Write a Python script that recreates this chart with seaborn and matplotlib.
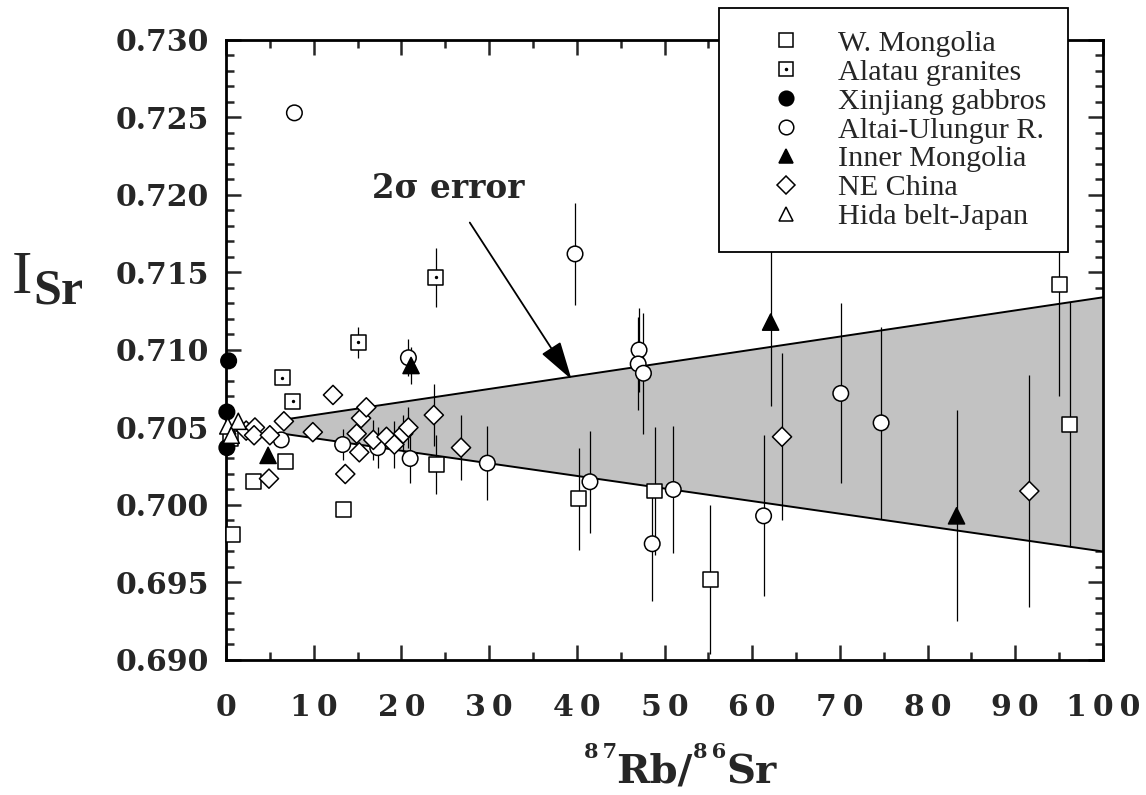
import numpy as np
import pandas as pd
import matplotlib
matplotlib.use("Agg")
import matplotlib.pyplot as plt
from matplotlib.lines import Line2D
from matplotlib.ticker import MultipleLocator, FixedLocator
import seaborn as sns

# ------- Data (x = 87Rb/86Sr, y = initial Sr, err = 2 sigma) -------
wm_x = [0.5, 0.8, 3.1, 6.8, 13.4, 24.0, 40.2, 48.9, 55.2, 95.0, 96.2]
wm_y = [0.7043, 0.6981, 0.7015, 0.7028, 0.6997, 0.7026, 0.7004, 0.7009, 0.6952, 0.7142, 0.7052]
wm_err = [0, 0, 0, 0, 0, 0.0019, 0.0033, 0.0041, 0.0048, 0.0072, 0.0079]

al_x = [6.4, 7.6, 15.1, 23.9]
al_y = [0.7082, 0.7067, 0.7105, 0.7147]
al_err = [0, 0, 0.0010, 0.0019]

xj_x = [0.3, 0.1, 0.1]
xj_y = [0.7093, 0.7060, 0.7037]
xj_err = [0, 0, 0]

au_x = [7.8, 6.3, 13.3, 17.3, 21.0, 20.8, 29.8, 39.8, 41.5, 47.1, 47.0, 47.6, 48.6, 51.0, 61.3, 70.1, 74.7]
au_y = [0.7253, 0.7042, 0.7039, 0.7037, 0.7030, 0.7095, 0.7027, 0.7162, 0.7015, 0.7100, 0.7091,
        0.7085, 0.6975, 0.7010, 0.6993, 0.7072, 0.7053]
au_err = [0, 0, 0.0010, 0.0013, 0.0016, 0.0012, 0.0024, 0.0033, 0.0033, 0.0027, 0.0030,
          0.0039, 0.0037, 0.0041, 0.0052, 0.0058, 0.0062]

im_x = [4.8, 21.1, 62.1, 83.3]
im_y = [0.7032, 0.7090, 0.7118, 0.6993]
im_err = [0, 0.0012, 0.0054, 0.0068]

ne_x = [2.3, 3.3, 3.2, 5.0, 4.9, 6.6, 9.9, 12.2, 13.6, 14.9, 15.4, 15.2, 16.0, 16.8, 18.3,
        19.2, 20.2, 20.8, 23.7, 26.8, 63.4, 91.6]
ne_y = [0.7048, 0.7050, 0.7045, 0.7045, 0.7017, 0.7054, 0.7047, 0.7071, 0.7020, 0.7046, 0.7056,
        0.7034, 0.7063, 0.7042, 0.7044, 0.7039, 0.7046, 0.7050, 0.7058, 0.7037, 0.7044, 0.7009]
ne_err = [0, 0, 0, 0, 0, 0, 0, 0, 0, 0, 0, 0, 0, 0.0013, 0, 0.0015, 0.0012, 0.0013,
          0.0020, 0.0021, 0.0054, 0.0075]

hb_x = [0.2, 1.4, 0.6]
hb_y = [0.7051, 0.7054, 0.7045]
hb_err = [0, 0, 0]

# 2 sigma error envelope
band_x = [6.5, 100]
band_lo = [0.7046, 0.6970]
band_hi = [0.7055, 0.7134]

groups = ["W. Mongolia", "Alatau granites", "Xinjiang gabbros", "Altai-Ulungur R.",
          "Inner Mongolia", "NE China", "Hida belt-Japan"]
xticks = [0, 10, 20, 30, 40, 50, 60, 70, 80, 90, 100]
yticks = [0.690, 0.695, 0.700, 0.705, 0.710, 0.715, 0.720, 0.725, 0.730]

series = {
    "W. Mongolia": (wm_x, wm_y, wm_err),
    "Alatau granites": (al_x, al_y, al_err),
    "Xinjiang gabbros": (xj_x, xj_y, xj_err),
    "Altai-Ulungur R.": (au_x, au_y, au_err),
    "Inner Mongolia": (im_x, im_y, im_err),
    "NE China": (ne_x, ne_y, ne_err),
    "Hida belt-Japan": (hb_x, hb_y, hb_err),
}

# styles
markers = {"W. Mongolia": "s", "Alatau granites": "s", "Xinjiang gabbros": "o",
           "Altai-Ulungur R.": "o", "Inner Mongolia": "^", "NE China": "D",
           "Hida belt-Japan": "^"}
faces = {"W. Mongolia": "white", "Alatau granites": "white", "Xinjiang gabbros": "black",
         "Altai-Ulungur R.": "white", "Inner Mongolia": "black", "NE China": "white",
         "Hida belt-Japan": "white"}
areas = {"W. Mongolia": 115, "Alatau granites": 115, "Xinjiang gabbros": 125,
         "Altai-Ulungur R.": 125, "Inner Mongolia": 135, "NE China": 95,
         "Hida belt-Japan": 135}

rows = []
for g in groups:
    xs, ys, es = series[g]
    for x, y, e in zip(xs, ys, es):
        rows.append({"group": g, "rbsr": x, "isr": y, "err": e})
df = pd.DataFrame(rows)

# ------- Plot -------
sns.set_style("ticks")
plt.rcParams["font.family"] = ["Liberation Serif", "DejaVu Serif"]
BOLD = ["DejaVu Serif"]

W, H = 1146, 795
fig = plt.figure(figsize=(W / 100, H / 100), dpi=100)
ax = fig.add_axes([226 / W, 1 - 660 / H, (1103 - 226) / W, (660 - 40) / H])

ax.fill_between(band_x, band_lo, band_hi, facecolor="#c2c2c2", edgecolor="none", zorder=1)
ax.plot(band_x, band_hi, color="black", lw=1.4, zorder=2)
ax.plot(band_x, band_lo, color="black", lw=1.4, zorder=2)

eb = df[df["err"] > 0]
ax.errorbar(eb["rbsr"], eb["isr"], yerr=eb["err"], fmt="none", ecolor="black",
            elinewidth=0.9, capsize=0, zorder=3)

sns.scatterplot(data=df, x="rbsr", y="isr", hue="group", style="group", size="group",
                palette=faces, markers=markers, sizes=areas, hue_order=groups,
                style_order=groups, size_order=groups, edgecolor="black", linewidth=1.1,
                legend=False, ax=ax, zorder=4, clip_on=False)
# centre dot of the Alatau squares
ax.scatter(al_x, al_y, s=2, color="black", zorder=5, clip_on=False)

ax.set_xlim(0, 100)
ax.set_ylim(0.690, 0.730)
ax.xaxis.set_major_locator(FixedLocator(xticks))
ax.yaxis.set_major_locator(FixedLocator(yticks))
ax.xaxis.set_minor_locator(MultipleLocator(5))
ax.yaxis.set_minor_locator(MultipleLocator(0.001))
ax.set_xticklabels(["\u2009".join(str(t)) for t in xticks], fontfamily=BOLD,
                   fontweight="bold", fontsize=21.5)
ax.set_yticklabels([f"{t:.3f}" for t in yticks], fontfamily=BOLD, fontweight="bold",
                   fontsize=21.5)
ax.tick_params(which="both", direction="in", top=True, right=True, width=1.8)
ax.tick_params(which="major", length=11)
ax.tick_params(which="minor", length=5.5)
ax.tick_params(axis="x", which="major", pad=24)
ax.tick_params(axis="y", which="major", pad=12)
for sp in ax.spines.values():
    sp.set_linewidth(2)
    sp.set_color("black")
ax.set_xlabel("")
ax.set_ylabel("")

# y label: I with bold Sr subscript
fig.text(12 / W, 1 - 292.7 / H, "I", fontsize=44, va="baseline", ha="left")
fig.text(33 / W, 1 - 303 / H, "Sr", fontsize=36, fontweight="bold", va="baseline", ha="left")

# x label: 87Rb/86Sr built from pieces (small raised mass numbers)
renderer = fig.canvas.get_renderer()
pieces = [("8\u20097", 15, 758), ("Rb/", 29, 783), ("8\u20096", 15, 758), ("Sr", 29, 783)]
placed = []
total = 0
for s, size, base in pieces:
    t = fig.text(0, 1 - base / H, s, fontsize=size, fontweight="bold", fontfamily=BOLD,
                 va="baseline", ha="left")
    w = t.get_window_extent(renderer).width
    placed.append((t, w))
    total += w
xpos = 680 - total / 2
for t, w in placed:
    t.set_x(xpos / W)
    xpos += w

ax.annotate("2\u03c3 error", xy=(39.4, 0.7081), xytext=(25.3, 0.7204),
            ha="center", va="center", fontsize=23.5, fontweight="bold", fontfamily=BOLD,
            arrowprops=dict(arrowstyle="-|>,head_length=1.2,head_width=0.35", color="black",
                            lw=1.3, shrinkA=12, shrinkB=0, mutation_scale=20), zorder=6)

handles = []
for g in groups:
    h = Line2D([], [], ls="none", marker=markers[g], markersize=10.5 if markers[g] != "D" else 9,
               markerfacecolor=faces[g], markeredgecolor="black", markeredgewidth=1.1)
    if g == "Alatau granites":
        h = (h, Line2D([], [], ls="none", marker="o", markersize=1.5, color="black"))
    handles.append(h)
leg = fig.legend(handles, groups, loc="upper left", bbox_to_anchor=(719 / W, 1 - 8 / H),
                 fontsize=21.7, frameon=True, fancybox=False, framealpha=1, edgecolor="black",
                 borderpad=0.72, labelspacing=0.06, handlelength=3.0, handletextpad=0.22,
                 borderaxespad=0)
leg.get_frame().set_linewidth(1.3)
leg.set_zorder(10)

fig.savefig("out.png", dpi=100)
